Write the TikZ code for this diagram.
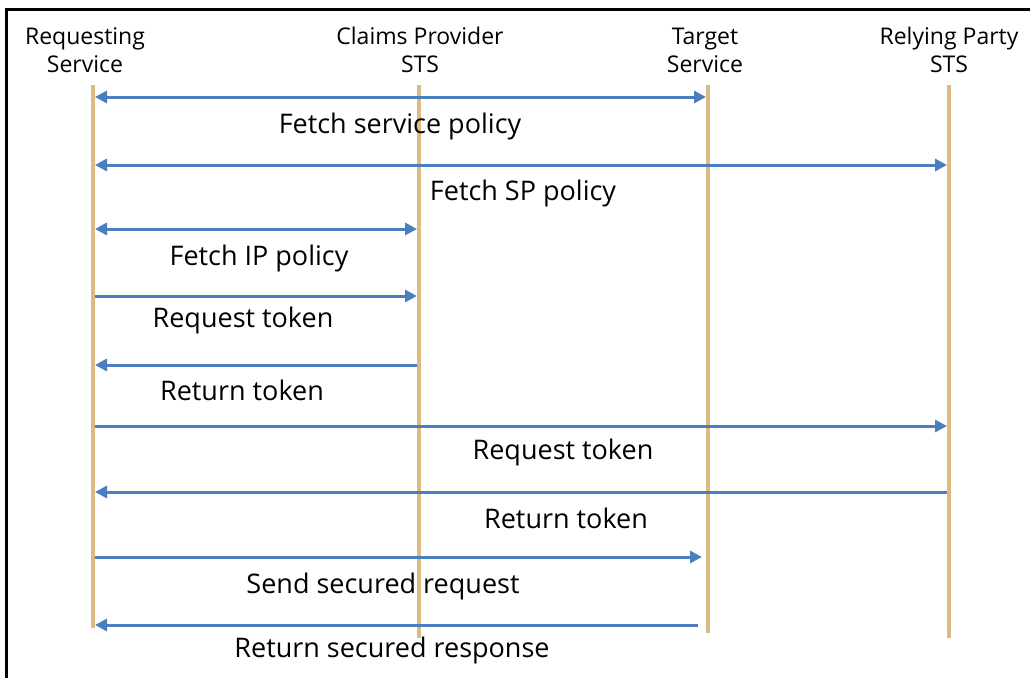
\documentclass[tikz,border=0pt]{standalone}
\usepackage{fontspec}
\setmainfont{Open Sans}
\usetikzlibrary{arrows.meta}
\definecolor{lifetan}{RGB}{221,186,128}
\definecolor{msgblue}{RGB}{74,126,190}
\begin{document}
\begin{tikzpicture}[x=1pt,y=-1pt,
  hdr/.style={align=center,font=\fontsize{23}{28}\selectfont,inner sep=0pt},
  lbl/.style={font=\fontsize{27}{30}\selectfont,inner sep=0pt,yshift=-2pt},
  life/.style={draw=lifetan,line width=4pt},
  msg/.style={draw=msgblue,line width=3pt},
  tip/.style={-{Triangle[length=12pt,width=12pt]}},
  both/.style={{Triangle[length=12pt,width=12pt]}-{Triangle[length=12pt,width=12pt]}}]
\useasboundingbox (0,0) rectangle (1030,677);
% frame
\draw[line width=3pt,line cap=rect] (6,677) -- (6,10) -- (1030,10);
% headers
\node[hdr] (hRS) at (85,50) {Requesting\\Service};
\node[hdr] (hCP) at (420,50) {Claims Provider\\STS};
\node[hdr] (hTS) at (705,50) {Target\\Service};
\node[hdr] (hRP) at (949,50) {Relying Party\\STS};
% lifelines
\coordinate (rsT) at (93,85);  \coordinate (rsB) at (93,628);
\coordinate (cpT) at (419,85); \coordinate (cpB) at (419,638);
\coordinate (tsT) at (708,85); \coordinate (tsB) at (708,633);
\coordinate (rpT) at (949,85); \coordinate (rpB) at (949,638);
\draw[life] (rsT) -- (rsB);
\draw[life] (cpT) -- (cpB);
\draw[life] (tsT) -- (tsB);
\draw[life] (rpT) -- (rpB);
% message points
\foreach \n/\y in {1/97,2/165,3/229,4/296,5/365,6/426,7/492,8/557,9/625}{
  \coordinate (rs\n) at (95,\y);
  \coordinate (cp\n) at (417,\y);
  \coordinate (ts\n) at (706,\y);
  \coordinate (rp\n) at (947,\y);
}
\draw[msg,both] (rs1) -- (ts1);
\node[lbl] (l1) at (400,124) {Fetch service policy};
\draw[msg,both] (rs2) -- (rp2);
\node[lbl] (l2) at (523,191) {Fetch SP policy};
\draw[msg,both] (rs3) -- (cp3);
\node[lbl] (l3) at (259,256) {Fetch IP policy};
\draw[msg,tip] (rs4) -- (cp4);
\node[lbl] (l4) at (243,318) {Request token};
\draw[msg,tip] (cp5) -- (rs5);
\node[lbl] (l5) at (242,388) {Return token};
\draw[msg,tip] (rs6) -- (rp6);
\node[lbl] (l6) at (563,450) {Request token};
\draw[msg,tip] (rp7) -- (rs7);
\node[lbl] (l7) at (566,516) {Return token};
\draw[msg,tip] (rs8) -- ([xshift=-4pt]ts8);
\node[lbl] (l8) at (383,584) {Send secured request};
\draw[msg,tip] ([xshift=-8pt]ts9) -- (rs9);
\node[lbl] (l9) at (392,648) {Return secured response};
\end{tikzpicture}
\end{document}
